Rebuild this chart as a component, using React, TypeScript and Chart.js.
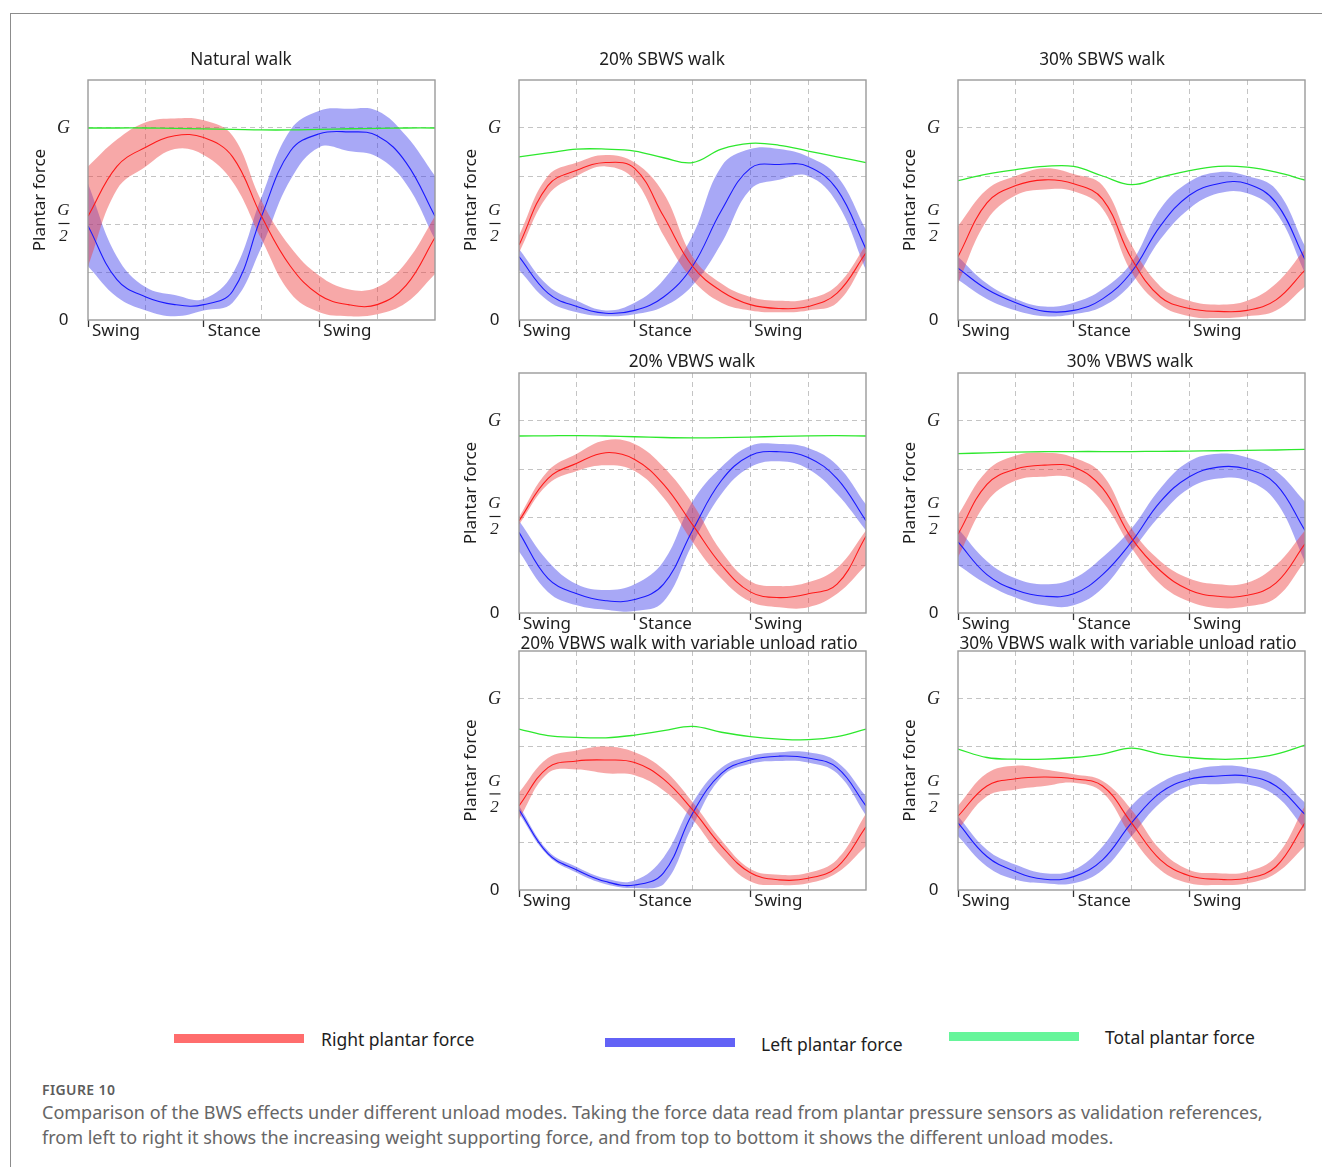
import React, { useEffect, useRef } from 'react';
import { Chart, registerables } from 'chart.js';

Chart.register(...registerables);

// ---------- shared axis data ----------
const PHASE = [0, 0.5, 1, 1.5, 2, 2.5, 3, 3.5, 4, 4.5, 5, 5.5, 6];
const PHASE_TICKS = [0, 2, 4];
const PHASE_LABELS = ['Swing', 'Stance', 'Swing'];
const FORCE_TICKS = [0, 0.5, 1];
const FORCE_LABELS = ['0', 'G/2', 'G'];

// ---------- Natural walk ----------
const NAT_TOTAL = [1.0, 1.0, 1.0, 0.998, 0.995, 0.993, 0.99, 0.99, 0.993, 0.996, 0.998, 1.0, 1.0];
const NAT_RIGHT_MEAN = [0.54, 0.8, 0.9, 0.96, 0.95, 0.85, 0.54, 0.28, 0.13, 0.08, 0.08, 0.18, 0.43];
const NAT_RIGHT_UPPER = [0.8, 0.94, 1.03, 1.05, 1.04, 0.96, 0.62, 0.38, 0.23, 0.16, 0.17, 0.3, 0.54];
const NAT_RIGHT_LOWER = [0.28, 0.68, 0.8, 0.89, 0.86, 0.72, 0.42, 0.14, 0.04, 0.02, 0.03, 0.09, 0.24];
const NAT_LEFT_MEAN = [0.49, 0.21, 0.12, 0.08, 0.08, 0.15, 0.54, 0.88, 0.97, 0.98, 0.96, 0.82, 0.54];
const NAT_LEFT_UPPER = [0.71, 0.33, 0.17, 0.13, 0.11, 0.24, 0.64, 0.99, 1.09, 1.1, 1.09, 0.96, 0.75];
const NAT_LEFT_LOWER = [0.28, 0.12, 0.05, 0.02, 0.05, 0.09, 0.38, 0.73, 0.9, 0.88, 0.85, 0.71, 0.42];

// ---------- 20% SBWS walk ----------
const S20_TOTAL = [0.85, 0.87, 0.89, 0.89, 0.88, 0.845, 0.82, 0.89, 0.92, 0.91, 0.88, 0.85, 0.82];
const S20_RIGHT_MEAN = [0.39, 0.7, 0.78, 0.82, 0.79, 0.54, 0.28, 0.15, 0.08, 0.06, 0.07, 0.14, 0.35];
const S20_RIGHT_UPPER = [0.44, 0.75, 0.82, 0.86, 0.82, 0.66, 0.33, 0.19, 0.12, 0.1, 0.11, 0.18, 0.39];
const S20_RIGHT_LOWER = [0.35, 0.65, 0.75, 0.8, 0.73, 0.44, 0.21, 0.09, 0.05, 0.04, 0.05, 0.09, 0.32];
const S20_LEFT_MEAN = [0.33, 0.14, 0.07, 0.035, 0.05, 0.12, 0.28, 0.57, 0.79, 0.81, 0.8, 0.68, 0.37];
const S20_LEFT_UPPER = [0.37, 0.18, 0.1, 0.05, 0.09, 0.21, 0.44, 0.8, 0.89, 0.89, 0.85, 0.75, 0.47];
const S20_LEFT_LOWER = [0.26, 0.1, 0.04, 0.02, 0.03, 0.07, 0.18, 0.4, 0.68, 0.73, 0.75, 0.61, 0.26];

// ---------- 30% SBWS walk ----------
const S30_TOTAL = [0.726, 0.76, 0.783, 0.8, 0.8, 0.75, 0.705, 0.743, 0.778, 0.8, 0.796, 0.77, 0.729];
const S30_RIGHT_MEAN = [0.33, 0.61, 0.7, 0.73, 0.71, 0.63, 0.32, 0.12, 0.06, 0.045, 0.05, 0.105, 0.26];
const S30_RIGHT_UPPER = [0.49, 0.68, 0.75, 0.79, 0.76, 0.7, 0.39, 0.175, 0.1, 0.08, 0.1, 0.19, 0.37];
const S30_RIGHT_LOWER = [0.19, 0.52, 0.65, 0.68, 0.67, 0.58, 0.25, 0.08, 0.02, 0.01, 0.02, 0.05, 0.175];
const S30_LEFT_MEAN = [0.27, 0.16, 0.09, 0.045, 0.05, 0.11, 0.25, 0.49, 0.65, 0.71, 0.71, 0.61, 0.315];
const S30_LEFT_UPPER = [0.33, 0.19, 0.11, 0.07, 0.09, 0.16, 0.3, 0.58, 0.72, 0.77, 0.75, 0.68, 0.385];
const S30_LEFT_LOWER = [0.21, 0.11, 0.05, 0.02, 0.03, 0.07, 0.19, 0.42, 0.58, 0.66, 0.66, 0.56, 0.245];

// ---------- 20% VBWS walk ----------
const V20_TOTAL = [0.922, 0.923, 0.924, 0.922, 0.918, 0.914, 0.912, 0.913, 0.916, 0.92, 0.923, 0.924, 0.922];
const V20_RIGHT_MEAN = [0.48, 0.7, 0.78, 0.835, 0.8, 0.67, 0.46, 0.25, 0.11, 0.08, 0.1, 0.15, 0.4];
const V20_RIGHT_UPPER = [0.5, 0.74, 0.83, 0.9, 0.88, 0.76, 0.57, 0.32, 0.165, 0.14, 0.16, 0.235, 0.43];
const V20_RIGHT_LOWER = [0.46, 0.67, 0.74, 0.77, 0.74, 0.6, 0.37, 0.18, 0.06, 0.03, 0.03, 0.1, 0.25];
const V20_LEFT_MEAN = [0.42, 0.18, 0.1, 0.064, 0.07, 0.15, 0.43, 0.69, 0.82, 0.84, 0.81, 0.7, 0.48];
const V20_LEFT_UPPER = [0.48, 0.27, 0.15, 0.12, 0.15, 0.27, 0.58, 0.76, 0.87, 0.88, 0.86, 0.77, 0.565];
const V20_LEFT_LOWER = [0.32, 0.11, 0.04, 0.017, 0.01, 0.06, 0.36, 0.62, 0.76, 0.79, 0.75, 0.62, 0.43];

// ---------- 30% VBWS walk ----------
const V30_TOTAL = [0.83, 0.834, 0.838, 0.84, 0.841, 0.841, 0.841, 0.842, 0.843, 0.845, 0.847, 0.849, 0.852];
const V30_RIGHT_MEAN = [0.41, 0.67, 0.75, 0.77, 0.76, 0.65, 0.39, 0.22, 0.12, 0.087, 0.092, 0.157, 0.36];
const V30_RIGHT_UPPER = [0.51, 0.74, 0.82, 0.835, 0.81, 0.72, 0.44, 0.27, 0.18, 0.15, 0.157, 0.25, 0.43];
const V30_RIGHT_LOWER = [0.29, 0.58, 0.69, 0.71, 0.7, 0.58, 0.34, 0.15, 0.06, 0.026, 0.035, 0.08, 0.27];
const V30_LEFT_MEAN = [0.37, 0.2, 0.12, 0.087, 0.1, 0.2, 0.37, 0.58, 0.71, 0.76, 0.75, 0.67, 0.43];
const V30_LEFT_UPPER = [0.44, 0.27, 0.18, 0.15, 0.18, 0.29, 0.44, 0.65, 0.79, 0.83, 0.81, 0.74, 0.58];
const V30_LEFT_LOWER = [0.25, 0.15, 0.08, 0.04, 0.04, 0.13, 0.32, 0.51, 0.65, 0.7, 0.69, 0.58, 0.27];

// ---------- 20% VBWS walk with variable unload ratio ----------
const VAR20_TOTAL = [0.842, 0.807, 0.798, 0.796, 0.81, 0.833, 0.856, 0.825, 0.802, 0.789, 0.786, 0.802, 0.842];
const VAR20_RIGHT_MEAN = [0.44, 0.64, 0.675, 0.68, 0.667, 0.58, 0.42, 0.23, 0.09, 0.053, 0.061, 0.12, 0.33];
const VAR20_RIGHT_UPPER = [0.51, 0.69, 0.73, 0.75, 0.72, 0.63, 0.46, 0.26, 0.11, 0.08, 0.09, 0.16, 0.4];
const VAR20_RIGHT_LOWER = [0.37, 0.61, 0.63, 0.61, 0.6, 0.52, 0.37, 0.175, 0.044, 0.026, 0.035, 0.09, 0.23];
const VAR20_LEFT_MEAN = [0.42, 0.19, 0.105, 0.044, 0.026, 0.09, 0.4, 0.61, 0.68, 0.7, 0.69, 0.64, 0.44];
const VAR20_LEFT_UPPER = [0.44, 0.205, 0.12, 0.06, 0.05, 0.17, 0.456, 0.64, 0.7, 0.72, 0.72, 0.67, 0.49];
const VAR20_LEFT_LOWER = [0.4, 0.18, 0.09, 0.03, 0.01, 0.03, 0.333, 0.59, 0.66, 0.675, 0.667, 0.61, 0.39];

// ---------- 30% VBWS walk with variable unload ratio ----------
const VAR30_TOTAL = [0.737, 0.693, 0.684, 0.684, 0.693, 0.711, 0.742, 0.711, 0.693, 0.684, 0.688, 0.711, 0.758];
const VAR30_RIGHT_MEAN = [0.386, 0.544, 0.582, 0.591, 0.582, 0.544, 0.351, 0.158, 0.074, 0.056, 0.061, 0.123, 0.351];
const VAR30_RIGHT_UPPER = [0.44, 0.61, 0.65, 0.63, 0.605, 0.57, 0.42, 0.21, 0.105, 0.088, 0.096, 0.175, 0.44];
const VAR30_RIGHT_LOWER = [0.316, 0.49, 0.526, 0.544, 0.561, 0.51, 0.28, 0.105, 0.035, 0.026, 0.035, 0.088, 0.23];
const VAR30_LEFT_MEAN = [0.351, 0.175, 0.096, 0.056, 0.07, 0.158, 0.351, 0.509, 0.579, 0.596, 0.596, 0.544, 0.395];
const VAR30_LEFT_UPPER = [0.386, 0.211, 0.132, 0.088, 0.105, 0.228, 0.44, 0.561, 0.623, 0.649, 0.64, 0.596, 0.456];
const VAR30_LEFT_LOWER = [0.281, 0.123, 0.053, 0.035, 0.035, 0.105, 0.281, 0.456, 0.544, 0.553, 0.553, 0.491, 0.316];

// ---------- legend / caption text ----------
const LEGEND_LABELS = ['Right plantar force', 'Left plantar force', 'Total plantar force'];
const CAPTION_HEAD = 'FIGURE 10';
const CAPTION_LINES = [
  'Comparison of the BWS effects under different unload modes. Taking the force data read from plantar pressure sensors as validation references,',
  'from left to right it shows the increasing weight supporting force, and from top to bottom it shows the different unload modes.',
];

// ---------- styles ----------
const SANS = '"Noto Sans", "DejaVu Sans", sans-serif';
const SERIF = '"Liberation Serif", "DejaVu Serif", serif';
const RED_LINE = '#ff1a1a';
const BLUE_LINE = '#1a1aff';
const GREEN_LINE = '#2ee82e';
const RED_BAND = 'rgba(238, 62, 62, 0.45)';
const BLUE_BAND = 'rgba(62, 62, 236, 0.45)';
const GRID = '#c4c4c4';
const TEXT = '#1e1e1e';
const CLEAR = 'rgba(0,0,0,0)';

const PAD_TOP = 32;
const PAD_RIGHT = 6;
const Y_AXIS_W = 62;
const X_AXIS_H = 30;

const PANELS = [
  { title: 'Natural walk', plotLeft: 88, plotTop: 80, plotW: 347, plotH: 240, titleX: 241, titleY: 59,
    total: NAT_TOTAL, rightMean: NAT_RIGHT_MEAN, rightUpper: NAT_RIGHT_UPPER, rightLower: NAT_RIGHT_LOWER,
    leftMean: NAT_LEFT_MEAN, leftUpper: NAT_LEFT_UPPER, leftLower: NAT_LEFT_LOWER },
  { title: '20% SBWS walk', plotLeft: 519, plotTop: 80, plotW: 347, plotH: 240, titleX: 662, titleY: 59,
    total: S20_TOTAL, rightMean: S20_RIGHT_MEAN, rightUpper: S20_RIGHT_UPPER, rightLower: S20_RIGHT_LOWER,
    leftMean: S20_LEFT_MEAN, leftUpper: S20_LEFT_UPPER, leftLower: S20_LEFT_LOWER },
  { title: '30% SBWS walk', plotLeft: 958, plotTop: 80, plotW: 347, plotH: 240, titleX: 1102, titleY: 59,
    total: S30_TOTAL, rightMean: S30_RIGHT_MEAN, rightUpper: S30_RIGHT_UPPER, rightLower: S30_RIGHT_LOWER,
    leftMean: S30_LEFT_MEAN, leftUpper: S30_LEFT_UPPER, leftLower: S30_LEFT_LOWER },
  { title: '20% VBWS walk', plotLeft: 519, plotTop: 373, plotW: 347, plotH: 240, titleX: 692, titleY: 361,
    total: V20_TOTAL, rightMean: V20_RIGHT_MEAN, rightUpper: V20_RIGHT_UPPER, rightLower: V20_RIGHT_LOWER,
    leftMean: V20_LEFT_MEAN, leftUpper: V20_LEFT_UPPER, leftLower: V20_LEFT_LOWER },
  { title: '30% VBWS walk', plotLeft: 958, plotTop: 373, plotW: 347, plotH: 240, titleX: 1130, titleY: 361,
    total: V30_TOTAL, rightMean: V30_RIGHT_MEAN, rightUpper: V30_RIGHT_UPPER, rightLower: V30_RIGHT_LOWER,
    leftMean: V30_LEFT_MEAN, leftUpper: V30_LEFT_UPPER, leftLower: V30_LEFT_LOWER },
  { title: '20% VBWS walk with variable unload ratio', plotLeft: 519, plotTop: 651, plotW: 347, plotH: 239, titleX: 689, titleY: 643,
    total: VAR20_TOTAL, rightMean: VAR20_RIGHT_MEAN, rightUpper: VAR20_RIGHT_UPPER, rightLower: VAR20_RIGHT_LOWER,
    leftMean: VAR20_LEFT_MEAN, leftUpper: VAR20_LEFT_UPPER, leftLower: VAR20_LEFT_LOWER },
  { title: '30% VBWS walk with variable unload ratio', plotLeft: 958, plotTop: 651, plotW: 347, plotH: 239, titleX: 1128, titleY: 643,
    total: VAR30_TOTAL, rightMean: VAR30_RIGHT_MEAN, rightUpper: VAR30_RIGHT_UPPER, rightLower: VAR30_RIGHT_LOWER,
    leftMean: VAR30_LEFT_MEAN, leftUpper: VAR30_LEFT_UPPER, leftLower: VAR30_LEFT_LOWER },
];

const framePlugin = {
  id: 'panelFrame',
  afterDraw(chart: any) {
    const { ctx, chartArea } = chart;
    const { left, top, right, bottom } = chartArea;
    ctx.save();
    ctx.strokeStyle = '#9b9b9b';
    ctx.lineWidth = 1.4;
    ctx.strokeRect(left, top, right - left, bottom - top);
    // fraction bar of the G/2 tick label
    const yHalf = chart.scales.y.getPixelForValue(FORCE_TICKS[1]);
    const cx = left - 24;
    ctx.strokeStyle = TEXT;
    ctx.lineWidth = 1.2;
    ctx.beginPath();
    ctx.moveTo(cx - 5.5, yHalf - 0.5);
    ctx.lineTo(cx + 5.5, yHalf - 0.5);
    ctx.stroke();
    ctx.restore();
  },
};

function Panel({ p }: { p: any }) {
  const ref = useRef<HTMLCanvasElement>(null);
  const width = Y_AXIS_W + p.plotW + PAD_RIGHT;
  const height = PAD_TOP + p.plotH + X_AXIS_H;

  useEffect(() => {
    const canvas = ref.current;
    if (!canvas) return;
    const pts = (arr: number[]) => arr.map((y, i) => ({ x: PHASE[i], y }));
    const band = (data: number[], color: string, fill: any) => ({
      data: pts(data), borderColor: CLEAR, borderWidth: 1, backgroundColor: color, fill,
    });
    const chart = new Chart(canvas, {
      type: 'line',
      data: {
        datasets: [
          { label: LEGEND_LABELS[2], data: pts(p.total), borderColor: GREEN_LINE, borderWidth: 1.3, fill: false },
          { label: LEGEND_LABELS[0], data: pts(p.rightMean), borderColor: RED_LINE, borderWidth: 1.1, fill: false },
          { label: LEGEND_LABELS[1], data: pts(p.leftMean), borderColor: BLUE_LINE, borderWidth: 1.1, fill: false },
          { label: 'Right upper', ...band(p.rightUpper, RED_BAND, '+1') },
          { label: 'Right lower', ...band(p.rightLower, CLEAR, false) },
          { label: 'Left upper', ...band(p.leftUpper, BLUE_BAND, '+1') },
          { label: 'Left lower', ...band(p.leftLower, CLEAR, false) },
        ],
      },
      options: {
        responsive: false,
        animation: false,
        devicePixelRatio: 1,
        layout: { padding: { top: PAD_TOP, right: PAD_RIGHT, left: 0, bottom: 0 } },
        elements: {
          point: { radius: 0, hoverRadius: 0 },
          line: { tension: 0.4 },
        },
        plugins: {
          legend: { display: false },
          tooltip: { enabled: false },
          title: { display: false },
        },
        scales: {
          x: {
            type: 'linear',
            min: 0,
            max: 6,
            afterFit: (s: any) => { s.height = X_AXIS_H; },
            border: { display: false, dash: [5, 4] },
            grid: {
              color: (c: any) => (c.tick && c.tick.value > 0 && c.tick.value < 6 ? GRID : CLEAR),
              lineWidth: 1,
              drawTicks: true,
              tickLength: 7,
              tickWidth: 1.3,
              tickBorderDash: [],
              tickColor: (c: any) => (c.tick && PHASE_TICKS.includes(c.tick.value) ? '#333' : CLEAR),
            },
            ticks: {
              stepSize: 1,
              autoSkip: false,
              maxRotation: 0,
              align: 'start',
              labelOffset: 4,
              padding: -6,
              color: TEXT,
              font: { family: SANS, size: 17 },
              callback: (v: any) => {
                const i = PHASE_TICKS.indexOf(Number(v));
                return i >= 0 ? PHASE_LABELS[i] : '';
              },
            },
          },
          y: {
            type: 'linear',
            min: 0,
            max: 1.25,
            afterFit: (s: any) => { s.width = Y_AXIS_W; },
            border: { display: false, dash: [5, 4] },
            grid: {
              color: (c: any) => (c.tick && c.tick.value > 0 && c.tick.value < 1.25 ? GRID : CLEAR),
              lineWidth: 1,
              drawTicks: false,
            },
            title: {
              display: true,
              text: 'Plantar force',
              color: TEXT,
              font: { family: SANS, size: 17, lineHeight: '20px' },
              padding: { top: 4.5, bottom: 0 },
            },
            ticks: {
              stepSize: 0.25,
              autoSkip: false,
              crossAlign: 'center',
              padding: 18,
              color: TEXT,
              font: (c: any) => {
                const v = c.tick ? c.tick.value : -1;
                if (v === 0) return { family: SANS, size: 17 };
                if (v === 0.5) return { family: SERIF, size: 17, style: 'italic', lineHeight: '26px' };
                return { family: SERIF, size: 18, style: 'italic' };
              },
              callback: (v: any) => {
                const i = FORCE_TICKS.indexOf(Number(v));
                if (i < 0) return '';
                const s = FORCE_LABELS[i];
                return s.includes('/') ? s.split('/') : s;
              },
            },
          },
        },
      } as any,
      plugins: [framePlugin],
    });
    return () => chart.destroy();
  }, [p]);

  return (
    <canvas
      ref={ref}
      width={width}
      height={height}
      style={{ position: 'absolute', left: p.plotLeft - Y_AXIS_W, top: p.plotTop - PAD_TOP, width, height }}
    />
  );
}

const LEGEND_ITEMS = [
  { label: LEGEND_LABELS[0], color: '#ff6d6d', barX: 174, barY: 1034, textX: 321, textY: 1039 },
  { label: LEGEND_LABELS[1], color: '#6262f6', barX: 605, barY: 1038, textX: 761, textY: 1044 },
  { label: LEGEND_LABELS[2], color: '#66f59a', barX: 949, barY: 1032, textX: 1105, textY: 1037 },
];

export default function App() {
  return (
    <div style={{ position: 'absolute', left: 0, top: 0, width: 1322, height: 1167, background: '#fff', overflow: 'hidden', fontFamily: SANS }}>
      <div style={{ position: 'absolute', left: 10, top: 13, width: 1320, height: 1160, borderTop: '1.5px solid #8c8c8c', borderLeft: '1.5px solid #8c8c8c' }} />
      {PANELS.map((p) => (
        <Panel key={p.title} p={p} />
      ))}
      {PANELS.map((p) => (
        <div
          key={'t' + p.title}
          style={{ position: 'absolute', left: p.titleX - 250, top: p.titleY - 11, width: 500, height: 22, lineHeight: '22px', textAlign: 'center', fontSize: 17.2, color: TEXT, zIndex: 2, whiteSpace: 'nowrap' }}
        >
          {p.title}
        </div>
      ))}
      {LEGEND_ITEMS.map((it) => (
        <React.Fragment key={it.label}>
          <div style={{ position: 'absolute', left: it.barX, top: it.barY, width: 130, height: 8.5, background: it.color }} />
          <div style={{ position: 'absolute', left: it.textX, top: it.textY - 12, height: 24, lineHeight: '24px', fontSize: 17.5, color: TEXT, whiteSpace: 'nowrap' }}>
            {it.label}
          </div>
        </React.Fragment>
      ))}
      <div style={{ position: 'absolute', left: 42, top: 1081, fontSize: 14, lineHeight: '18px', color: '#5c5c5c', fontWeight: 600, letterSpacing: 0.4, whiteSpace: 'nowrap' }}>
        {CAPTION_HEAD}
      </div>
      <div style={{ position: 'absolute', left: 42, top: 1100, fontSize: 18, lineHeight: '25px', color: '#666', whiteSpace: 'nowrap' }}>
        {CAPTION_LINES.map((l) => (
          <div key={l}>{l}</div>
        ))}
      </div>
    </div>
  );
}
